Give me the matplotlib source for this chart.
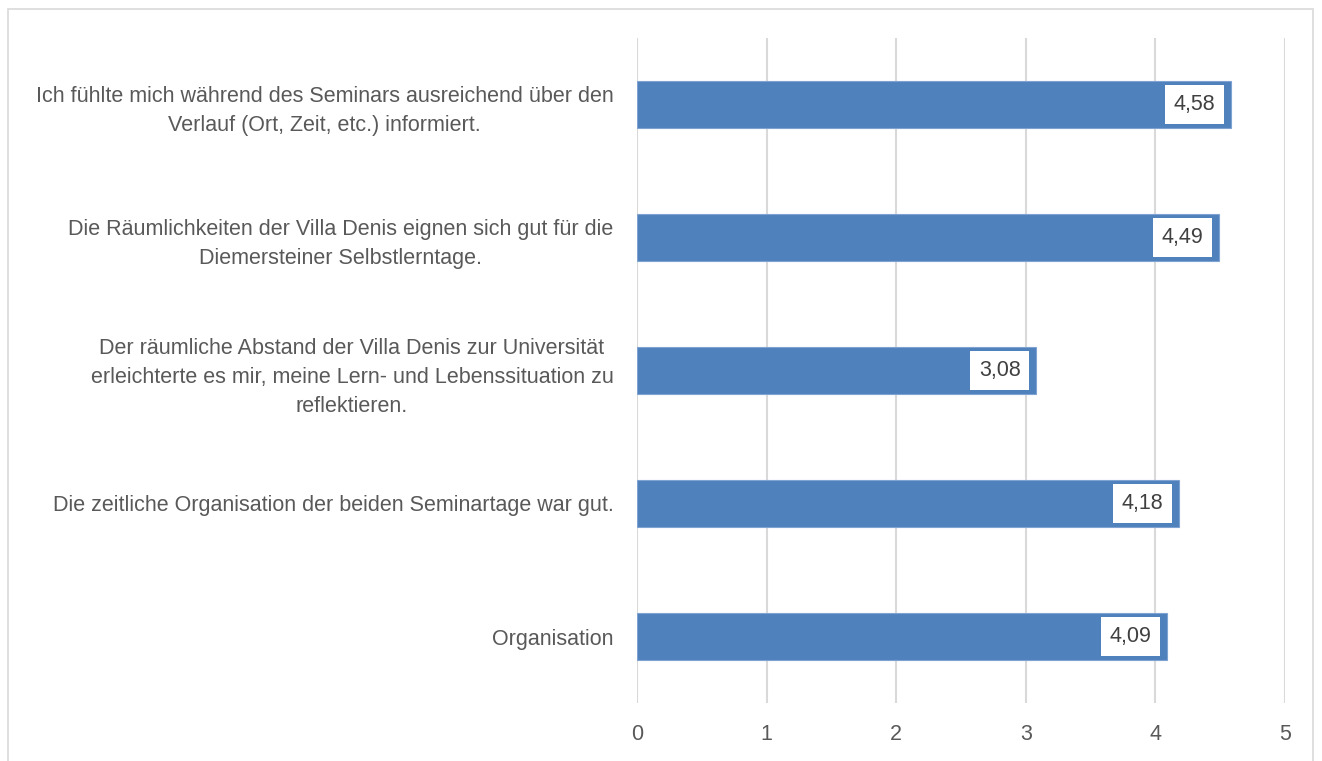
import matplotlib.pyplot as plt
from matplotlib.patches import Rectangle

# data, bottom to top
categories = [
    "Organisation",
    "Die zeitliche Organisation der beiden Seminartage war gut.",
    "Der räumliche Abstand der Villa Denis zur Universität\nerleichterte es mir, meine Lern- und Lebenssituation zu\nreflektieren.",
    "Die Räumlichkeiten der Villa Denis eignen sich gut für die\nDiemersteiner Selbstlerntage.",
    "Ich fühlte mich während des Seminars ausreichend über den\nVerlauf (Ort, Zeit, etc.) informiert.",
]
values = [4.09, 4.18, 3.08, 4.49, 4.58]
xticks = [0, 1, 2, 3, 4, 5]

plt.rcParams['font.family'] = ['Liberation Sans', 'DejaVu Sans']

fig = plt.figure(figsize=(13.22, 7.61), dpi=100)
# light frame round the chart
fig.patches.append(Rectangle((8 / 1322, -0.05), (1313 - 8) / 1322, 1 - 9 / 761 + 0.05,
                             transform=fig.transFigure, fill=False,
                             edgecolor="#D9D9D9", linewidth=1.2))

ax = fig.add_axes([637 / 1322, 1 - 703 / 761, (1285 - 637) / 1322, (703 - 38) / 761])

pos = list(range(len(categories)))
ax.barh(pos, values, height=0.35, color="#4F81BD", edgecolor="#7FA3D0", linewidth=0.8, zorder=2)

for p, v in zip(pos, values):
    ax.text(v - 0.12, p, f"{v:.2f}".replace(".", ","), ha="right", va="center",
            fontsize=15.5, color="#404040", zorder=3,
            bbox=dict(boxstyle="square,pad=0.4", facecolor="white", edgecolor="none"))

ax.set_xlim(0, 5)
ax.set_ylim(-0.5, 4.5)
ax.set_xticks(xticks)
ax.set_xticklabels([str(t) for t in xticks])
ax.set_yticks(pos)
ax.set_yticklabels(categories, multialignment="center", linespacing=1.5)

ax.grid(axis="x", color="#D9D9D9", linewidth=1.5, zorder=0)
for s in ax.spines.values():
    s.set_visible(False)
ax.tick_params(axis="both", length=0, labelsize=15.5, labelcolor="#595959")
ax.tick_params(axis="x", pad=15)
ax.tick_params(axis="y", pad=17)

fig.savefig("out.png", dpi=100)
